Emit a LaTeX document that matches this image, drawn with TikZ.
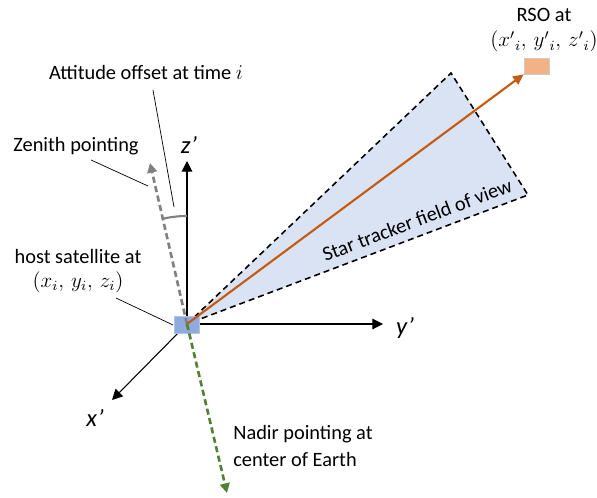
\documentclass[tikz,border=0pt]{standalone}
\usepackage{fontspec}
\setmainfont{Carlito}
\usetikzlibrary{arrows.meta}
\definecolor{fovblue}{RGB}{218,227,243}
\definecolor{hostblue}{RGB}{143,170,220}
\definecolor{rsoorange}{RGB}{244,177,131}
\definecolor{lineorange}{RGB}{197,90,17}
\definecolor{nadirgreen}{RGB}{84,130,53}
\definecolor{zengray}{RGB}{128,128,128}
\begin{document}
\begin{tikzpicture}[x=0.02cm,y=0.02cm,
    lbl/.style={font=\fontsize{11.6}{14}\selectfont,inner sep=0pt},
    axlbl/.style={font=\fontsize{14}{15}\selectfont\itshape,inner sep=0pt},
    axis/.style={line width=0.6pt,-{Triangle[length=6pt,width=6pt]}},
    leader/.style={line width=0.4pt}]
    \useasboundingbox (0,0) rectangle (597,497);

    \coordinate (O) at (187,173);
    \coordinate (fovA) at (451,424);
    \coordinate (fovB) at (528,302);
    \fill[fovblue] (O) -- (fovA) -- (fovB) -- cycle;
    \draw[line width=0.9pt,dash pattern=on 3.4pt off 2.3pt] (O) -- (fovA) -- (fovB) -- cycle;
    \node[lbl,rotate=20.6] (fov) at (417,277) {Star tracker field of view};

    \coordinate (zt) at (187,336);
    \coordinate (yt) at (383,173);
    \coordinate (xt) at (112,97);
    \draw[axis] (O) -- (zt);
    \draw[axis] (O) -- (yt);
    \draw[axis] (O) -- (xt);
    \node[axlbl] (zlbl) at (189,352) {z'};
    \node[axlbl] (ylbl) at (405,169) {y'};
    \node[axlbl] (xlbl) at (95,79) {x'};

    \node[fill=hostblue,draw=hostblue!70!white,line width=0.4pt,minimum width=0.5cm,minimum height=0.34cm,inner sep=0pt] (host) at (186.5,172.5) {};
    \node[fill=rsoorange,draw=gray!40,line width=0.4pt,minimum width=0.5cm,minimum height=0.32cm,inner sep=0pt] (rso) at (536.5,431) {};

    \coordinate (zen) at (150,334);
    \coordinate (nad) at (227,4);
    \draw[zengray,line width=1.5pt,dash pattern=on 3.5pt off 2pt,-{Triangle[length=5.5pt,width=5.5pt]}] (O) -- (zen);
    \draw[nadirgreen,line width=1.5pt,dash pattern=on 3.5pt off 2pt,-{Triangle[length=5.5pt,width=5.5pt]}] (O) -- (nad);
    \draw[lineorange,line width=1.2pt,-{Triangle[length=6pt,width=5.5pt]}] (O) -- (rso.south west);
    \draw[zengray,line width=1.2pt] (O) ++(90:108) arc[start angle=90,end angle=103,radius=108];

    \node[lbl,align=center,font=\fontsize{11.6}{14.7}\selectfont] (rsolbl) at (544,467) {RSO at\\$(x'{}_i,\, y'{}_i,\, z'{}_i)$};
    \node[lbl] (attlbl) at (146,424) {Attitude offset at time $i$};
    \node[lbl] (zenlbl) at (76,351) {Zenith pointing};
    \node[lbl,align=center] (hostlbl) at (78,226) {host satellite at\\$(x_i,\, y_i,\, z_i)$};
    \node[lbl,align=left,anchor=west] (nadlbl) at (233,51) {Nadir pointing at\\[1.3pt]center of Earth};

    \coordinate (attA) at (153,407);
    \coordinate (attB) at (174,290);
    \coordinate (zenA) at (91,337);
    \coordinate (zenB) at (148,311);
    \coordinate (hostA) at (116,199);
    \coordinate (hostB) at (173,172);
    \draw[leader] (attA) -- (attB);
    \draw[leader] (zenA) -- (zenB);
    \draw[leader] (hostA) -- (hostB);
\end{tikzpicture}
\end{document}
